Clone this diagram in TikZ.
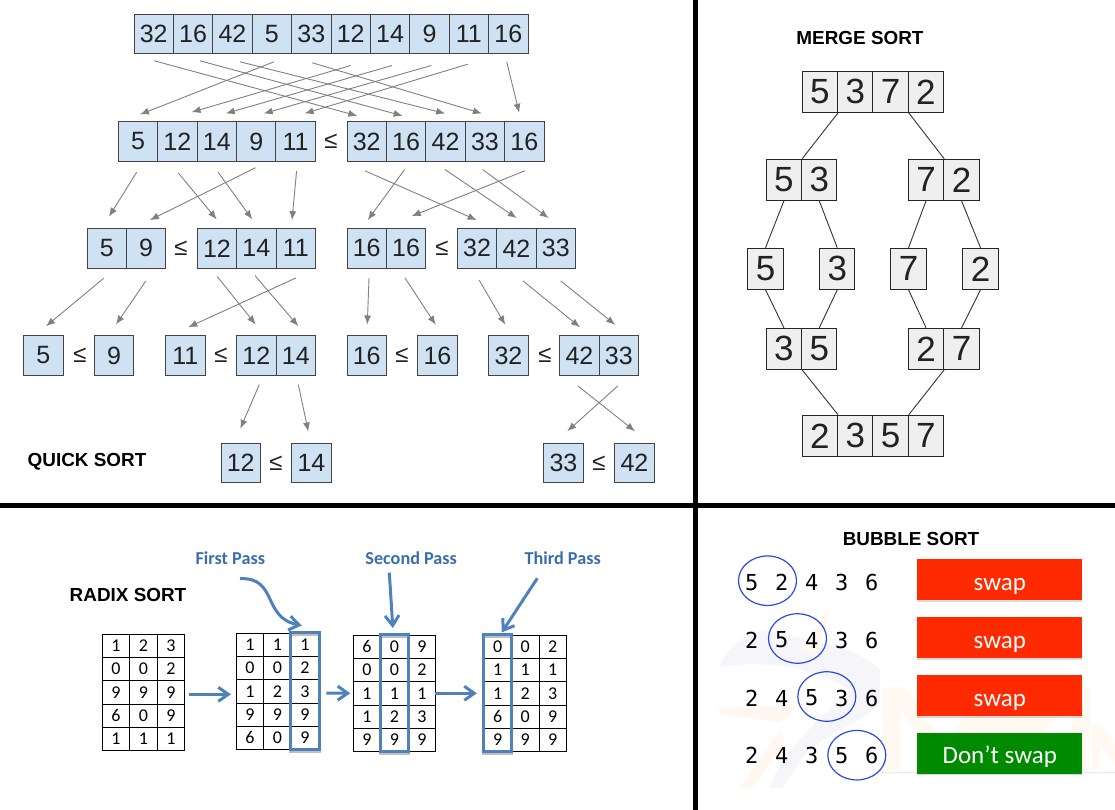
\documentclass[tikz,border=0pt]{standalone}
\usepackage{fontspec}
\setmainfont{Liberation Sans}
\newfontfamily\calfont{Carlito}
\newfontfamily\digitfont{DejaVu Sans Mono}
\usetikzlibrary{arrows.meta,fit,shapes.geometric,shadows}
\definecolor{qfill}{HTML}{CFE2F3}
\definecolor{qline}{HTML}{434343}
\definecolor{qtext}{HTML}{222222}
\definecolor{mfill}{HTML}{EFEFEF}
\definecolor{passblue}{HTML}{4F81BD}
\definecolor{passtext}{HTML}{3A6DB0}
\definecolor{ringblue}{HTML}{2A4BE0}
\definecolor{swapred}{HTML}{FF2A00}
\definecolor{keepgreen}{HTML}{008A00}
\tikzset{
  qcell/.style={draw=qline, line width=1pt, fill=qfill, text=qtext, inner sep=0pt, minimum width=39.4pt, minimum height=39.6pt, font=\fontsize{25}{25}\selectfont},
  qless/.style={inner sep=0pt, text=qtext, font=\fontsize{24}{24}\selectfont},
  qarrow/.style={draw=black!50, line width=0.9pt, -{Latex[length=9pt,width=7pt]}},
  mcell/.style={draw=black!85, line width=1pt, fill=mfill, text=qtext, inner sep=0pt, minimum width=35.3pt, minimum height=41pt, font=\fontsize{35}{35}\selectfont},
  mline/.style={draw=black!80, line width=0.9pt},
  heading/.style={inner sep=0pt, font=\fontsize{18.9}{18.9}\selectfont\bfseries},
  divider/.style={draw=black, line width=4.8pt},
  rcell/.style={draw=black, line width=0.8pt, inner sep=0pt, minimum width=27.5pt, minimum height=23.2pt, font=\calfont\fontsize{18}{18}\selectfont},
  passbox/.style={draw=passblue, line width=3pt, inner sep=0pt, preaction={draw=black!25, transform canvas={yshift=-1.5pt}}},
  passarrow/.style={draw=passblue, line width=3pt, -{Straight Barb[length=10pt,width=14pt]}},
  passlabel/.style={inner sep=0pt, text=passtext, font=\calfont\bfseries\fontsize{18.2}{18.2}\selectfont},
  bdigit/.style={inner sep=0pt, font=\digitfont\fontsize{22}{22}\selectfont},
  bring/.style={ellipse, draw=ringblue, line width=1.2pt, inner sep=0pt, minimum width=58pt, minimum height=49.5pt},
  bbutton/.style={inner sep=0pt, minimum width=165pt, minimum height=41pt, text=white, text height=21pt, text depth=0pt, font=\calfont\fontsize{25}{25}\selectfont, drop shadow={shadow xshift=0pt,shadow yshift=-1.5pt,opacity=.3}},
}
\newcommand{\qrow}[5]{%
  \foreach \v [count=\i from #2] in {#5}
    \node (#1\i) [qcell] at ({#3+39.4*(\i-#2+.5)},#4) {\v};
}
\newcommand{\mrow}[4]{%
  \foreach \v [count=\i] in {#4}
    \node (#1\i) [mcell] at ({#2+35.3*(\i-.5)},#3) {\v};
}
\newcommand{\radixtab}[4]{%
  \foreach \line [count=\r] in {#4}
    \foreach \v [count=\c] in \line
      \node (#1\r\c) [rcell] at ({#2+27.5*(\c-.5)},{#3+23.2*(\r-.5)}) {\v};
}
\begin{document}
\begin{tikzpicture}[x=1pt,y=-1pt]
  \useasboundingbox (0,0) rectangle (1115,810);

  \fill[blue!30!gray!6] (720,667) .. controls (725,650) and (745,632) .. (767,630) .. controls (790,640) and (850,640) .. (880,670) -- (880,703) .. controls (860,725) and (820,735) .. (803,757) -- (782,788) -- (770,788) .. controls (780,750) and (830,710) .. (850,690) .. controls (810,665) and (760,660) .. (720,667) -- cycle;
  \fill[orange!6] (718,708) -- (800,705) -- (780,722) -- (720,714) -- cycle;
  \fill[orange!6] (740,788) -- (780,730) -- (785,743) -- (752,788) -- cycle;
  \fill[orange!6] (800,650) -- (830,607) -- (818,655) -- cycle;
  \fill[orange!5] (883,687) -- (905,687) -- (945,745) -- (985,687) -- (1090,687) -- (1090,770) -- (1072,770) -- (1072,705) -- (1000,770) -- (945,770) -- (900,710) -- (900,770) -- (883,770) -- cycle;
  \fill[orange!5] (1092,725) -- (1100,725) -- (1115,745) -- (1115,765) -- (1100,742) -- (1100,770) -- (1092,770) -- cycle;
  \draw[blue!20!gray!15, line width=1pt] (880,772) -- (1115,772);

  \coordinate (vtop) at (695.3,0);
  \coordinate (vbot) at (695.3,810);
  \coordinate (hleft) at (0,505.5);
  \coordinate (hright) at (1115,505.5);
  \draw[divider] (vtop) -- (vbot);
  \draw[divider] (hleft) -- (hright);

  \qrow{t}{1}{134}{34}{32,16,42,5,33,12,14,9,11,16}
  \qrow{c}{1}{118.3}{141.5}{5,12,14,9,11}
  \qrow{c}{6}{347}{141.5}{32,16,42,33,16}
  \node (lc) [qless] at (331,141.5) {≤};
  \qrow{d}{1}{87}{248.3}{5,9}
  \qrow{d}{3}{197.3}{248.3}{12,14,11}
  \qrow{d}{6}{347}{248.3}{16,16}
  \qrow{d}{8}{457.3}{248.3}{32,42,33}
  \node (ld1) [qless] at (181,248.3) {≤};
  \node (ld2) [qless] at (442,248.3) {≤};
  \qrow{e}{1}{23.7}{355.5}{5}
  \qrow{e}{2}{94.3}{355.5}{9}
  \qrow{e}{3}{165.7}{355.5}{11}
  \qrow{e}{4}{236.7}{355.5}{12,14}
  \qrow{e}{6}{347}{355.5}{16}
  \qrow{e}{7}{417.7}{355.5}{16}
  \qrow{e}{8}{488.7}{355.5}{32}
  \qrow{e}{9}{559.7}{355.5}{42,33}
  \node (le1) [qless] at (80,355.5) {≤};
  \node (le2) [qless] at (221,355.5) {≤};
  \node (le3) [qless] at (402,355.5) {≤};
  \node (le4) [qless] at (545,355.5) {≤};
  \qrow{f}{1}{221}{462.8}{12}
  \qrow{f}{2}{291.7}{462.8}{14}
  \qrow{f}{3}{543.7}{462.8}{33}
  \qrow{f}{4}{614.7}{462.8}{42}
  \node (lf1) [qless] at (276,462.8) {≤};
  \node (lf2) [qless] at (599,462.8) {≤};
  \node (quick) [heading] at (87,461.5) {QUICK SORT};

  \foreach \a/\ax/\ay/\b/\bx/\by in {
    t1/0.6/6.5/c6/-9.4/-5.4, t2/6.9/6.5/c7/-3.5/-5.4, t3/7.5/7.5/c8/-0.3/-7.7, t5/1/8.5/c9/-3/-7.7,
    t4/2.1/7.5/c1/2/-6.7, t6/0/11.2/c2/14.2/-9, t7/1.9/11.2/c3/9/-7.7, t8/1.8/11.2/c4/7.5/-7.7,
    t9/-1.2/9.9/c5/9/-7.7, t10/-1.6/7.5/c10/-5.1/-8.4,
    c1/-1.3/10.4/d1/2.3/-11.3, c2/0.8/11/d3/-0.3/-8.6, c3/1.3/10.4/d4/-4.1/-8.6, c4/-0.8/6/d2/3.8/-7.9,
    c5/1/9/d5/-3.8/-7.9, c6/-1.7/9/d8/-0.3/-7.9, c7/-1.5/7.7/d6/1/-7.9, c8/-0.6/7.7/d9/0.3/-9.9,
    c9/-2.3/7.7/d10/-7.1/-9.9, c10/0.6/9/d7/5.6/-11.9,
    d1/-3/9.7/e1/2.6/-9, d2/-0.2/12.3/e2/2/-10.7, d3/0.3/8/e4/-0.7/-10.7, d4/-1.4/7/e5/2.5/-9,
    d5/0.2/9.3/e3/2.9/-8, d6/2.3/9.3/e6/0.6/-10.7, d7/-1.1/9.3/e7/-1.7/-10.4, d8/2/11.3/e8/-3.1/-10.4,
    d9/6.6/12.3/e9/0.6/-8, d10/4.9/12.3/e10/-3.5/-10.4,
    e4/2.9/8.7/f1/-0.4/-13.7, e5/2.5/8.7/f2/-3.1/-11, e10/-0.8/10/f3/3.9/-11.3, e9/-1.7/10/f4/0.6/-11.3}
    \draw[qarrow] ([shift={(\ax,\ay)}]\a.south) -- ([shift={(\bx,\by)}]\b.north);

  \node (merge) [heading] at (860,37.5) {MERGE SORT};
  \mrow{ma}{802.3}{91.8}{5,3,7,2}
  \mrow{mb}{766.3}{179.8}{5,3}
  \foreach \v [count=\i from 3] in {7,2}
    \node (mb\i) [mcell] at ({908.3+35.5*(\i-2.5)},179.8) {\v};
  \node (mc1) [mcell] at (765.5,268.8) {5};
  \node (mc2) [mcell] at (837.3,268.8) {3};
  \node (mc3) [mcell] at (908.5,268.8) {7};
  \node (mc4) [mcell] at (980.5,268.8) {2};
  \mrow{md}{766.3}{348.8}{3,5}
  \foreach \v [count=\i from 3] in {2,7}
    \node (md\i) [mcell] at ({908.3+35.5*(\i-2.5)},348.8) {\v};
  \mrow{me}{802.3}{435.8}{2,3,5,7}
  \draw[mline] (ma1.south east) -- (mb1.north east);
  \draw[mline] (ma3.south east) -- (mb3.north east);
  \draw[mline] (mb1.south) -- (mc1.north);
  \draw[mline] (mb2.south) -- (mc2.north);
  \draw[mline] (mb3.south) -- (mc3.north);
  \draw[mline] (mb4.south) -- (mc4.north);
  \draw[mline] (mc1.south) -- (md1.north);
  \draw[mline] (mc2.south) -- (md2.north);
  \draw[mline] (mc3.south) -- (md3.north);
  \draw[mline] (mc4.south) -- (md4.north);
  \draw[mline] (md1.south east) -- (me1.north east);
  \draw[mline] (md3.south east) -- (me3.north east);

  \node (radix) [heading] at (128,595) {RADIX SORT};
  \radixtab{ra}{102.3}{634.3}{{1,2,3},{0,0,2},{9,9,9},{6,0,9},{1,1,1}}
  \radixtab{rb}{236.3}{633.3}{{1,1,1},{0,0,2},{1,2,3},{9,9,9},{6,0,9}}
  \radixtab{rc}{353.3}{635.3}{{6,0,9},{0,0,2},{1,1,1},{1,2,3},{9,9,9}}
  \radixtab{rd}{484}{635.3}{{0,0,2},{1,1,1},{1,2,3},{6,0,9},{9,9,9}}
  \node (pb) [passbox, fit=(rb13)(rb53)] {};
  \node (pc) [passbox, fit=(rc12)(rc52)] {};
  \node (pd) [passbox, fit=(rd11)(rd51)] {};
  \node (first) [passlabel] at (230.3,558.3) {First Pass};
  \node (second) [passlabel] at (411.2,558.3) {Second Pass};
  \node (third) [passlabel] at (562.7,558.3) {Third Pass};
  \draw[passarrow] ([shift={(9.7,13.7)}]first.south) .. controls (278,577) and (262,618) .. ([shift={(-3.3,-6)}]pb.north);
  \draw[passarrow] ([shift={(-21.9,7.7)}]second.south) -- ([shift={(-1.7,-5.3)}]pc.north);
  \draw[passarrow] ([shift={(-25.4,13.3)}]third.south) -- ([shift={(4,-1)}]pd.north);
  \draw[passarrow] ([shift={(3.5,2)}]ra33.east) -- ([shift={(-5,3)}]rb31.west);
  \draw[passarrow] ([shift={(7.2,1.7)}]rb33.east) -- ([shift={(-2.6,0)}]rc31.west);
  \draw[passarrow] ([shift={(-1.5,0)}]rc33.east) -- ([shift={(-6.7,0)}]rd31.west);

  \node (bubble) [heading] at (911,539.3) {BUBBLE SORT};
  \foreach \row/\yy/\vals in {1/582.3/{5,2,4,3,6}, 2/640/{2,5,4,3,6}, 3/698/{2,4,5,3,6}, 4/755.7/{2,4,3,5,6}}
    \foreach \v [count=\i] in \vals
      \node (b\row\i) [bdigit] at ({751.7+30*(\i-1)},\yy) {\v};
  \node (ring1) [bring] at (767.5,580.7) {};
  \node (ring2) [bring] at (797.5,638.5) {};
  \node (ring3) [bring] at (826.8,696.5) {};
  \node (ring4) [bring] at (856.8,755.2) {};
  \node (swap1) [bbutton, fill=swapred] at (999.8,579.8) {swap};
  \node (swap2) [bbutton, fill=swapred] at (999.8,637.5) {swap};
  \node (swap3) [bbutton, fill=swapred] at (999.8,695.5) {swap};
  \node (keep) [bbutton, fill=keepgreen] at (999.8,753.3) {Don’t swap};
\end{tikzpicture}
\end{document}
